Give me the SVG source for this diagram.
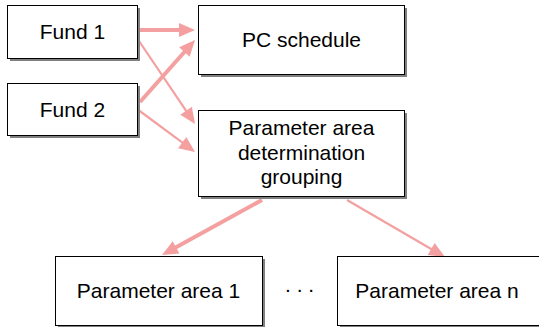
<svg xmlns="http://www.w3.org/2000/svg" width="539" height="327" viewBox="0 0 539 327">
  <style>
    .box { fill: #ffffff; stroke: #000000; stroke-width: 1; }
    .shadow { fill: #808080; }
    .label { font-family: "Liberation Sans", Arial, sans-serif; font-size: 21px; fill: #000000; text-anchor: middle; }
    .link { stroke: #f4a0a0; fill: none; stroke-linecap: butt; }
    .thick { stroke-width: 4; }
    .thin { stroke-width: 2.2; }
  </style>
  <defs>
    <marker id="head" markerUnits="userSpaceOnUse" markerWidth="16" markerHeight="14" refX="2" refY="7" orient="auto" overflow="visible">
      <path d="M0,0 L16,7 L0,14 Z" fill="#f4a0a0"/>
    </marker>
  </defs>

  <rect width="539" height="327" fill="#ffffff"/>

  <g id="connectors">
    <line class="link thick" x1="139" y1="30" x2="181" y2="30" marker-end="url(#head)"/>
    <line class="link thick" x1="140" y1="102" x2="185.7" y2="50.5" marker-end="url(#head)"/>
    <line class="link thin" x1="139" y1="41" x2="187.2" y2="112.4" marker-end="url(#head)"/>
    <line class="link thin" x1="137" y1="109" x2="183.8" y2="143.7" marker-end="url(#head)"/>
    <line class="link thick" x1="262" y1="200" x2="174.3" y2="248.3" marker-end="url(#head)"/>
    <line class="link thin" x1="347" y1="200" x2="432.9" y2="250" marker-end="url(#head)"/>
  </g>

  <g id="fund1">
    <rect class="shadow" x="10" y="8" width="130" height="53"/>
    <rect class="box" x="7.5" y="5.5" width="130" height="53"/>
    <text class="label" x="72.5" y="39">Fund 1</text>
  </g>

  <g id="fund2">
    <rect class="shadow" x="10" y="86" width="130" height="52"/>
    <rect class="box" x="7.5" y="83.5" width="130" height="52"/>
    <text class="label" x="72.5" y="116.5">Fund 2</text>
  </g>

  <g id="pc-schedule">
    <rect class="shadow" x="201" y="8" width="206" height="69"/>
    <rect class="box" x="198.5" y="5.5" width="206" height="69"/>
    <text class="label" x="301.5" y="47">PC schedule</text>
  </g>

  <g id="parameter-grouping">
    <rect class="shadow" x="201" y="113" width="206" height="86"/>
    <rect class="box" x="198.5" y="110.5" width="206" height="86"/>
    <text class="label" x="301.5" y="135">Parameter area</text>
    <text class="label" x="301.5" y="159.5">determination</text>
    <text class="label" x="301.5" y="184">grouping</text>
  </g>

  <g id="parameter-area-1">
    <rect class="shadow" x="58" y="259" width="207" height="70"/>
    <rect class="box" x="55.5" y="256.5" width="207" height="69"/>
    <text class="label" x="158.5" y="298">Parameter area 1</text>
  </g>

  <g id="ellipsis">
    <text x="285" y="292" font-family="Liberation Sans, Arial, sans-serif" font-size="21" fill="#000000">. . .</text>
  </g>

  <g id="parameter-area-n">
    <rect class="shadow" x="340" y="259" width="207" height="70"/>
    <rect class="box" x="337.5" y="256.5" width="207" height="69"/>
    <text class="label" x="437" y="298">Parameter area n</text>
  </g>
</svg>
